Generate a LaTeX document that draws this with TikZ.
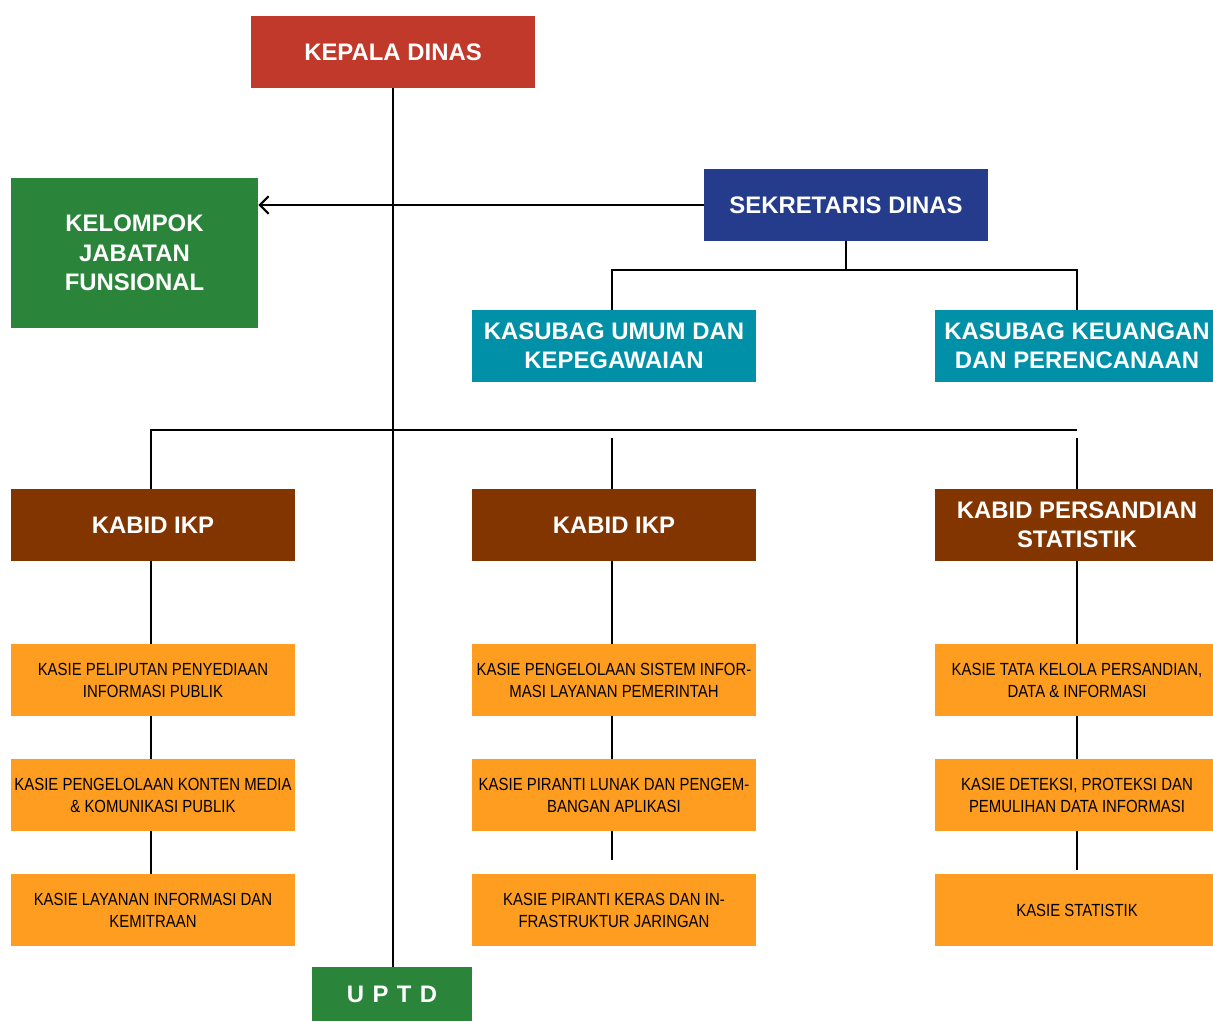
\documentclass[tikz,border=0pt]{standalone}
\usepackage{fontspec}
\setmainfont{Liberation Sans}
\newfontfamily\narrowfont[FakeStretch=0.85]{Liberation Sans}
\usetikzlibrary{arrows.meta}

\definecolor{kepalared}{RGB}{192,57,43}
\definecolor{fungsigreen}{RGB}{42,132,58}
\definecolor{sekblue}{RGB}{37,60,140}
\definecolor{subteal}{RGB}{0,145,168}
\definecolor{bidbrown}{RGB}{131,53,0}
\definecolor{kasieorange}{RGB}{255,157,32}

\tikzset{
    unit/.style={inner sep=0pt, align=center, minimum width=5.68cm, minimum height=1.44cm},
    headunit/.style={unit, text=white, font=\bfseries\fontsize{13.6}{16.7}\selectfont},
    kasieunit/.style={unit, fill=kasieorange, text=black, font=\narrowfont\fontsize{10}{12.5}\selectfont},
    wire/.style={draw=black, line width=1.2pt},
    busline/.style={draw=black, line width=1.6pt}
}

\begin{document}
\begin{tikzpicture}[x=0.02cm, y=-0.02cm]
    \useasboundingbox (0,0) rectangle (1213,1021);

    % Pimpinan
    \node[headunit, fill=kepalared] (kepala) at (393,52) {KEPALA DINAS};
    \node[headunit, fill=fungsigreen, minimum width=4.94cm, minimum height=3cm] (jafung) at (134.5,253) {KELOMPOK\\JABATAN\\FUNSIONAL};
    \node[headunit, fill=sekblue] (sekdis) at (846,205) {SEKRETARIS DINAS};
    \node[headunit, fill=subteal] (umum) at (614,346) {KASUBAG UMUM DAN\\KEPEGAWAIAN};
    \node[headunit, fill=subteal] (keuangan) at (1077,346) {KASUBAG KEUANGAN\\DAN PERENCANAAN};

    % Bidang
    \node[headunit, fill=bidbrown] (bidA) at (153,525) {KABID IKP};
    \node[headunit, fill=bidbrown] (bidB) at (614,525) {KABID IKP};
    \node[headunit, fill=bidbrown] (bidC) at (1077,525) {KABID PERSANDIAN\\STATISTIK};

    % Seksi
    \node[kasieunit] (kasieA1) at (153,680) {KASIE PELIPUTAN PENYEDIAAN\\INFORMASI PUBLIK};
    \node[kasieunit] (kasieA2) at (153,795) {KASIE PENGELOLAAN KONTEN MEDIA\\\& KOMUNIKASI PUBLIK};
    \node[kasieunit] (kasieA3) at (153,910) {KASIE LAYANAN INFORMASI DAN\\KEMITRAAN};
    \node[kasieunit] (kasieB1) at (614,680) {KASIE PENGELOLAAN SISTEM INFOR-\\MASI LAYANAN PEMERINTAH};
    \node[kasieunit] (kasieB2) at (614,795) {KASIE PIRANTI LUNAK DAN PENGEM-\\BANGAN APLIKASI};
    \node[kasieunit] (kasieB3) at (614,910) {KASIE PIRANTI KERAS DAN IN-\\FRASTRUKTUR JARINGAN};
    \node[kasieunit] (kasieC1) at (1077,680) {KASIE TATA KELOLA PERSANDIAN,\\DATA \& INFORMASI};
    \node[kasieunit] (kasieC2) at (1077,795) {KASIE DETEKSI, PROTEKSI DAN\\PEMULIHAN DATA INFORMASI};
    \node[kasieunit] (kasieC3) at (1077,910) {KASIE STATISTIK};

    \node[headunit, fill=fungsigreen, minimum width=3.2cm, minimum height=1.08cm] (uptd) at (392,994) {U\hspace{0.35em}P\hspace{0.35em}T\hspace{0.35em}D};

    % Garis
    \coordinate (sekbus) at (846,270);
    \coordinate (bidbus) at (393,430);
    \coordinate (gapB) at (612,438);
    \coordinate (gapC) at (1077,438);

    \draw[wire] (kepala.south) -- (kepala.south |- uptd.north);
    \draw[wire, arrows={-Straight Barb[length=5pt, width=10pt, line width=1.2pt]}] (sekdis.west) -- (jafung.east |- sekdis.west);
    \draw[wire] (sekdis.south) -- (sekbus);
    \draw[wire] (umum.north -| gapB) |- (sekbus) -| (keuangan.north -| gapC);
    \draw[busline] (bidA.north -| 151,0) |- (gapC |- bidbus);
    \draw[wire] (gapB) -- (bidB.north -| gapB);
    \draw[wire] (gapC) -- (bidC.north -| gapC);

    \draw[wire] (bidA.south -| 151,0) -- (kasieA1.north -| 151,0);
    \draw[wire] (kasieA1.south -| 151,0) -- (kasieA2.north -| 151,0);
    \draw[wire] (kasieA2.south -| 151,0) -- (kasieA3.north -| 151,0);
    \draw[wire] (bidB.south -| gapB) -- (kasieB1.north -| gapB);
    \draw[wire] (kasieB1.south -| gapB) -- (kasieB2.north -| gapB);
    \draw[wire] (kasieB2.south -| gapB) -- ++(0,29);
    \draw[wire] (bidC.south -| gapC) -- (kasieC1.north -| gapC);
    \draw[wire] (kasieC1.south -| gapC) -- (kasieC2.north -| gapC);
    \draw[wire] (kasieC2.south -| gapC) -- ++(0,39);
\end{tikzpicture}
\end{document}
